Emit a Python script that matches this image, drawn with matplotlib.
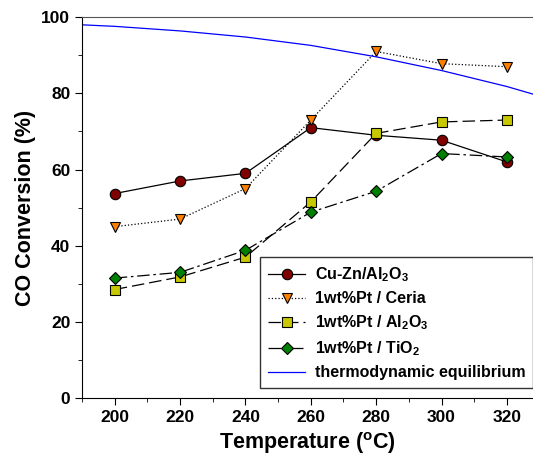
import matplotlib
matplotlib.use('Agg')
import matplotlib.pyplot as plt
from matplotlib.ticker import MultipleLocator

plt.rcParams['font.family'] = ['Liberation Sans', 'DejaVu Sans']
plt.rcParams['font.weight'] = 'bold'
plt.rcParams['mathtext.default'] = 'regular'

temps = [200, 220, 240, 260, 280, 300, 320]
cuzn = [53.7, 57.0, 59.0, 71.0, 69.0, 67.7, 62.0]
ceria = [45.0, 47.0, 55.0, 73.0, 91.0, 87.8, 87.0]
pt_al = [28.5, 31.8, 37.0, 51.5, 69.5, 72.5, 73.0]
pt_ti = [31.5, 33.0, 38.8, 48.8, 54.3, 64.2, 63.3]

eq_t = [190, 200, 220, 240, 260, 280, 300, 320, 330]
eq_v = [98.0, 97.6, 96.4, 94.8, 92.6, 89.6, 86.0, 81.8, 79.3]

fig = plt.figure(figsize=(5.33, 4.65), dpi=100)
ax = fig.add_axes([0.154, 0.144, 0.846, 0.819])

mk = dict(markeredgecolor='black', markeredgewidth=0.8, markersize=7.5, linewidth=0.9)
ax.plot(temps, cuzn, color='black', linestyle='-', marker='o',
        markerfacecolor='#800000', label='Cu-Zn/Al$_2$O$_3$', **mk)
ax.plot(temps, ceria, color='black', linestyle=':', marker='v',
        markerfacecolor='#ff8000', label='1wt%Pt / Ceria', **mk)
ax.plot(temps, pt_al, color='black', linestyle=(0, (10, 4)), marker='s',
        markerfacecolor='#c8c800', label='1wt%Pt / Al$_2$O$_3$', **mk)
ax.plot(temps, pt_ti, color='black', linestyle=(0, (10, 3, 2, 3)), marker='D',
        markerfacecolor='#008000', label='1wt%Pt / TiO$_2$', markersize=6.5,
        markeredgecolor='black', markeredgewidth=0.8, linewidth=0.9)
ax.plot(eq_t, eq_v, color='blue', linewidth=0.9, label='thermodynamic equilibrium')

ax.set_xlim(190, 328)
ax.set_ylim(0, 100)
ax.spines['right'].set_visible(False)
ax.spines['top'].set_color('#555555')
ax.xaxis.set_major_locator(MultipleLocator(20))
ax.xaxis.set_minor_locator(MultipleLocator(10))
ax.yaxis.set_major_locator(MultipleLocator(20))
ax.yaxis.set_minor_locator(MultipleLocator(10))
ax.tick_params(which='both', direction='out', labelsize=12.5)
ax.tick_params(which='major', length=5)
ax.tick_params(which='minor', length=3)
for lab in ax.get_xticklabels() + ax.get_yticklabels():
    lab.set_fontweight('bold')

ax.set_xlabel('Temperature ($^{o}$C)', fontsize=15.5, fontweight='bold')
ax.set_ylabel('CO Conversion (%)', fontsize=15.5, fontweight='bold')

leg = ax.legend(loc='lower left', bbox_to_anchor=(0.395, 0.026),
                fancybox=False, edgecolor='black', handlelength=2.3,
                handletextpad=0.6, borderaxespad=0, labelspacing=0.45,
                borderpad=0.5, prop={'weight': 'bold', 'size': 11.5})
leg.get_frame().set_linewidth(1.0)

fig.savefig('out.png', dpi=100)
